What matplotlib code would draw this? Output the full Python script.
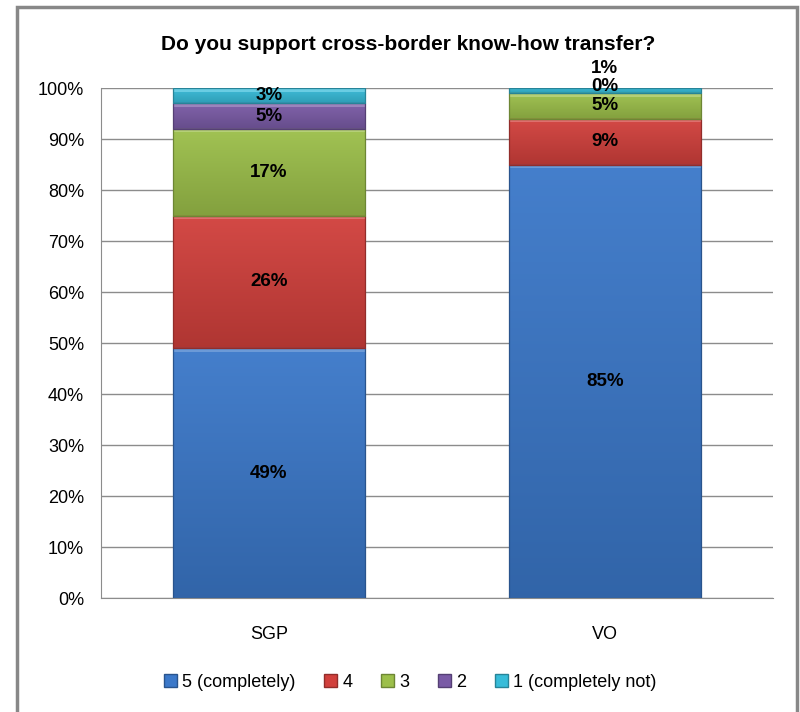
import numpy as np
import matplotlib.pyplot as plt
from matplotlib.colors import to_rgb
from matplotlib.patches import Rectangle, Patch
from matplotlib.ticker import MultipleLocator, PercentFormatter

plt.rcParams["font.family"] = ["Liberation Sans", "DejaVu Sans"]

# data (percent of answers)
categories = ["SGP", "VO"]
series_names = ["5 (completely)", "4", "3", "2", "1 (completely not)"]
share_5 = [49, 85]
share_4 = [26, 9]
share_3 = [17, 5]
share_2 = [5, 0]
share_1 = [3, 1]
shares = [share_5, share_4, share_3, share_2, share_1]

colors = ["#3b78c9", "#d1403c", "#9cbf4a", "#7a5ba6", "#37bcd9"]
# label nudges (points) for crowded labels: (series index, category index) -> dy
label_nudge = {(3, 1): 5, (4, 1): 16}


def shade(c, f):
    r = np.array(to_rgb(c))
    if f >= 1:
        return r + (1 - r) * (f - 1)
    return r * f


fig = plt.figure(figsize=(8, 7.12), dpi=100)
ax = fig.add_axes([0.126, 0.160, 0.840, 0.7164])

x = np.arange(len(categories))
width = 0.57
bottom = np.zeros(len(categories))

for si, vals in enumerate(shares):
    base = colors[si]
    for ci, v in enumerate(vals):
        y0 = bottom[ci]
        x0, x1 = x[ci] - width / 2, x[ci] + width / 2
        if v > 0:
            # vertical gradient + light bevel strip on top, like the Excel style
            grad = np.linspace(0, 1, 64)[:, None, None]
            lo, hi = shade(base, 0.84), shade(base, 1.05)
            img = lo + (hi - lo) * grad
            ax.imshow(img, extent=(x0, x1, y0, y0 + v), origin="lower",
                      aspect="auto", zorder=2, interpolation="bilinear")
            strip = min(0.7, v * 0.25)
            ax.add_patch(Rectangle((x0, y0 + v - strip), width, strip,
                                   facecolor=shade(base, 1.25), edgecolor="none", zorder=3))
            ax.add_patch(Rectangle((x0, y0), width, v, facecolor="none",
                                   edgecolor=shade(base, 0.7), lw=0.9, zorder=4))
        dy = label_nudge.get((si, ci), 0)
        ax.annotate(f"{v}%", (x[ci], y0 + v / 2), xytext=(0, dy),
                    textcoords="offset points", ha="center", va="center",
                    fontsize=13.5, fontweight="bold", color="black", zorder=6)
        bottom[ci] += v

ax.set_xlim(-0.5, len(categories) - 0.5)
ax.set_ylim(0, 100)
ax.set_xticks(x)
ax.set_xticklabels(categories, fontsize=13)
ax.yaxis.set_major_locator(MultipleLocator(10))
ax.yaxis.set_major_formatter(PercentFormatter(decimals=0))
ax.tick_params(axis="y", length=0, pad=12, labelsize=13)
ax.tick_params(axis="x", length=0, pad=20)
ax.grid(axis="y", color="#8c8c8c", lw=1, zorder=0)
ax.set_axisbelow(True)
for s in ["top", "right"]:
    ax.spines[s].set_visible(False)
ax.spines["left"].set_color("#8c8c8c")
ax.spines["bottom"].set_color("#8c8c8c")

fig.text(0.51, 0.938, "Do you support cross-border know-how transfer?",
         ha="center", va="center", fontsize=15, fontweight="bold")

handles = [Patch(facecolor=c, edgecolor=shade(c, 0.7)) for c in colors]
fig.legend(handles, series_names, loc="center", bbox_to_anchor=(0.513, 0.042),
           ncol=5, frameon=False, fontsize=13, handlelength=0.7, handleheight=0.7,
           handletextpad=0.3, columnspacing=1.6)

fig.patches.append(Rectangle((0.021, -0.02), 0.975, 1.01, transform=fig.transFigure,
                             fill=False, edgecolor="#888888", lw=2.5))

fig.savefig("out.png", dpi=100)
